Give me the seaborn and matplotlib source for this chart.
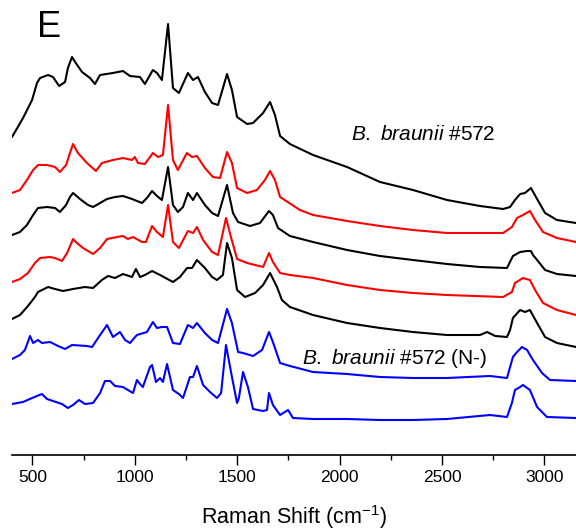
import numpy as np
import pandas as pd
import matplotlib
matplotlib.use("Agg")
import matplotlib.pyplot as plt
from matplotlib import ticker
import seaborn as sns

# Espectros Raman (desplazamiento en cm-1, intensidad en u.a. ya apilada)
wn_1 = [400, 454, 498, 522, 537, 576, 600, 630, 659, 673, 693, 708, 742, 781, 805, 830, 893, 942, 976,
        1025, 1049, 1088, 1108, 1132, 1162, 1186, 1215, 1259, 1284, 1308, 1342, 1377, 1406, 1450, 1474,
        1499, 1548, 1577, 1626, 1660, 1684, 1709, 1757, 1870, 2036, 2197, 2358, 2524, 2685, 2798, 2832,
        2856, 2881, 2905, 2934, 2964, 3003, 3061, 3154]
int_1 = [320, 339, 357, 374, 379, 382, 380, 371, 375, 389, 400, 395, 385, 379, 373, 382, 384, 386, 381,
         380, 373, 387, 384, 377, 433, 369, 364, 384, 377, 380, 365, 354, 352, 383, 367,
         340, 333, 334, 344, 355, 342, 321, 313, 302, 290, 275, 267, 257, 251, 248, 250,
         257, 263, 264, 269, 258, 244, 237, 234]

wn_2 = [400, 439, 473, 503, 527, 571, 610, 634, 664, 683, 698, 722, 766, 810, 839, 893, 942, 986, 1000,
        1015, 1049, 1088, 1113, 1137, 1162, 1186, 1210, 1254, 1279, 1303, 1342, 1381, 1416, 1450, 1474,
        1499, 1548, 1596, 1635, 1660, 1684, 1709, 1806, 1870, 2036, 2197, 2358, 2524, 2798, 2841, 2866,
        2895, 2929, 2954, 2993, 3061, 3154]
int_2 = [264, 267, 277, 287, 292, 292, 290, 285, 292, 304, 313, 304, 294, 286, 294, 297, 299, 297, 300,
         294, 293, 304, 300, 302, 352, 297, 287, 304, 300, 301, 289, 280, 279, 305, 294,
         269, 264, 267, 277, 286, 277, 260, 247, 242, 236, 231, 227, 224, 224, 230, 239,
         242, 246, 237, 225, 219, 215]

wn_3 = [400, 439, 473, 503, 527, 571, 610, 634, 664, 683, 698, 732, 771, 796, 830, 864, 903, 942, 986,
        1035, 1059, 1084, 1108, 1132, 1162, 1186, 1210, 1235, 1259, 1284, 1303, 1342, 1377, 1406, 1450,
        1479, 1504, 1562, 1611, 1655, 1674, 1699, 1757, 1870, 2036, 2197, 2358, 2524, 2685, 2817, 2846,
        2881, 2915, 2934, 2944, 2964, 3003, 3061, 3154]
int_3 = [222, 225, 232, 242, 249, 250, 249, 245, 252, 260, 264, 258, 252, 250, 254, 258, 260, 261, 258,
         254, 259, 266, 261, 257, 290, 252, 245, 250, 264, 257, 264, 252, 244, 241, 272,
         244, 235, 231, 234, 246, 242, 229, 221, 215, 207, 201, 197, 193, 190, 189, 201,
         205, 206, 206, 202, 197, 187, 183, 181]

wn_4 = [400, 439, 478, 512, 537, 586, 610, 644, 669, 698, 717, 747, 796, 830, 864, 913, 942, 966, 991,
        1035, 1054, 1084, 1108, 1137, 1162, 1186, 1215, 1259, 1284, 1303, 1333, 1377, 1406, 1445, 1469,
        1499, 1548, 1587, 1626, 1655, 1674, 1709, 1757, 1870, 2036, 2197, 2358, 2524, 2798, 2841, 2856,
        2895, 2929, 2954, 2993, 3061, 3154]
int_4 = [175, 178, 184, 194, 199, 200, 199, 196, 204, 218, 214, 209, 203, 209, 218, 220, 221, 218, 220,
         215, 215, 231, 225, 220, 252, 215, 209, 226, 224, 230, 217, 205, 202, 239, 220,
         198, 194, 192, 190, 204, 195, 184, 182, 179, 172, 167, 164, 162, 160, 165, 174,
         179, 177, 167, 154, 147, 142]

wn_5 = [400, 439, 478, 512, 527, 576, 610, 649, 698, 756, 796, 839, 869, 903, 942, 986, 1005, 1025, 1049,
        1084, 1123, 1186, 1220, 1255, 1279, 1303, 1342, 1377, 1401, 1430, 1450, 1474, 1499, 1538, 1587,
        1626, 1660, 1694, 1718, 1757, 1870, 2036, 2197, 2358, 2524, 2685, 2720, 2760, 2817, 2832, 2846,
        2881, 2905, 2929, 2964, 3003, 3061, 3154]
int_5 = [138, 142, 151, 160, 165, 170, 168, 166, 168, 170, 169, 177, 181, 179, 183, 180, 188, 180, 182,
         186, 182, 175, 180, 189, 189, 197, 189, 180, 177, 182, 214, 199, 167, 160, 164,
         172, 184, 170, 157, 150, 142, 134, 129, 125, 122, 122, 125, 121, 120, 127, 139,
         147, 145, 147, 134, 120, 114, 110]

wn_6 = [400, 439, 463, 488, 503, 527, 546, 586, 625, 659, 693, 766, 791, 830, 864, 893, 927, 952, 976,
        1010, 1059, 1088, 1108, 1132, 1157, 1186, 1220, 1259, 1284, 1303, 1342, 1377, 1406, 1450, 1474,
        1504, 1528, 1577, 1621, 1655, 1674, 1709, 1757, 1870, 2036, 2197, 2358, 2524, 2734, 2817, 2846,
        2866, 2890, 2915, 2944, 2988, 3027, 3154]
int_6 = [98, 102, 107, 121, 114, 117, 114, 115, 111, 108, 112, 111, 110, 122, 132, 120, 125, 117, 114,
         122, 125, 135, 129, 130, 130, 114, 113, 132, 129, 134, 124, 117, 114, 148, 134,
         105, 104, 101, 107, 125, 115, 94, 91, 85, 83, 80, 79, 79, 81, 79, 100,
         105, 110, 107, 97, 84, 77, 76]

wn_7 = [400, 454, 498, 546, 571, 600, 644, 673, 698, 727, 756, 796, 830, 854, 879, 903, 942, 966, 991,
        1010, 1025, 1039, 1074, 1084, 1103, 1123, 1137, 1157, 1186, 1215, 1235, 1269, 1284, 1303, 1333,
        1367, 1401, 1421, 1445, 1474, 1499, 1508, 1528, 1552, 1577, 1626, 1645, 1655, 1674, 1709, 1748,
        1772, 1870, 2036, 2197, 2358, 2524, 2734, 2817, 2841, 2856, 2881, 2895, 2929, 2964, 3012, 3154]
int_7 = [53, 55, 59, 63, 58, 56, 53, 49, 52, 57, 53, 54, 64, 76, 76, 71, 70, 67, 64,
         77, 73, 70, 90, 92, 75, 79, 75, 93, 67, 63, 59, 80, 80, 91, 72,
         65, 59, 64, 112, 80, 54, 59, 85, 70, 48, 46, 47, 64, 52, 42, 47,
         39, 38, 38, 37, 37, 38, 42, 40, 54, 67, 70, 72, 67, 50, 40, 39]

trace_names = ["t1", "t2", "t3", "t4", "t5", "t6", "t7"]
trace_colors = ["black", "red", "black", "red", "black", "blue", "blue"]
wn_all = [wn_1, wn_2, wn_3, wn_4, wn_5, wn_6, wn_7]
int_all = [int_1, int_2, int_3, int_4, int_5, int_6, int_7]

# Tabla larga para seaborn
frames = []
for name, w, i in zip(trace_names, wn_all, int_all):
    frames.append(pd.DataFrame({"wn": w, "intensity": i, "trace": name}))
df = pd.concat(frames, ignore_index=True)

sns.set_style("ticks", {"axes.edgecolor": "black", "xtick.color": "black",
                        "text.color": "black", "axes.labelcolor": "black"})
plt.rcParams["font.family"] = ["Liberation Sans", "DejaVu Sans"]
plt.rcParams["mathtext.fontset"] = "custom"
plt.rcParams["mathtext.rm"] = "Liberation Sans"
plt.rcParams["mathtext.it"] = "Liberation Sans:italic"

fig = plt.figure(figsize=(5.76, 5.31), dpi=100)
ax = fig.add_axes([12 / 576, 76 / 531, 1 - 12 / 576, 455 / 531])

sns.lineplot(data=df, x="wn", y="intensity", hue="trace", hue_order=trace_names,
             palette=dict(zip(trace_names, trace_colors)), estimator=None, sort=False,
             linewidth=1.5, legend=False, ax=ax)

ax.set_xlim(400, 3154)
ax.set_ylim(2, 457)
ax.set_yticks([])
ax.set_ylabel("")
ax.set_xlabel("Raman Shift (cm$^{-1}$)", fontsize=15.5, labelpad=13, color="black")
ax.xaxis.set_major_locator(ticker.MultipleLocator(500))
ax.xaxis.set_minor_locator(ticker.MultipleLocator(250))
ax.tick_params(axis="x", which="major", length=7, width=1, labelsize=12.5, direction="out",
               pad=4, colors="black")
ax.tick_params(axis="x", which="minor", length=3.5, width=1, direction="out", colors="black")
sns.despine(ax=ax, left=True, top=True, right=True)
ax.spines["bottom"].set_linewidth(1.2)

ax.text(2055, 322, r"$\mathit{B.}$ $\mathit{braunii}$ #572", fontsize=15, ha="left", va="center", color="black")
ax.text(1816, 99, r"$\mathit{B.}$ $\mathit{braunii}$ #572 (N-)", fontsize=15, ha="left", va="center", color="black")
fig.text(37 / 576, 1 - 27.5 / 531, "E", fontsize=26, ha="left", va="center", color="black")

fig.savefig("out.png", dpi=100)
